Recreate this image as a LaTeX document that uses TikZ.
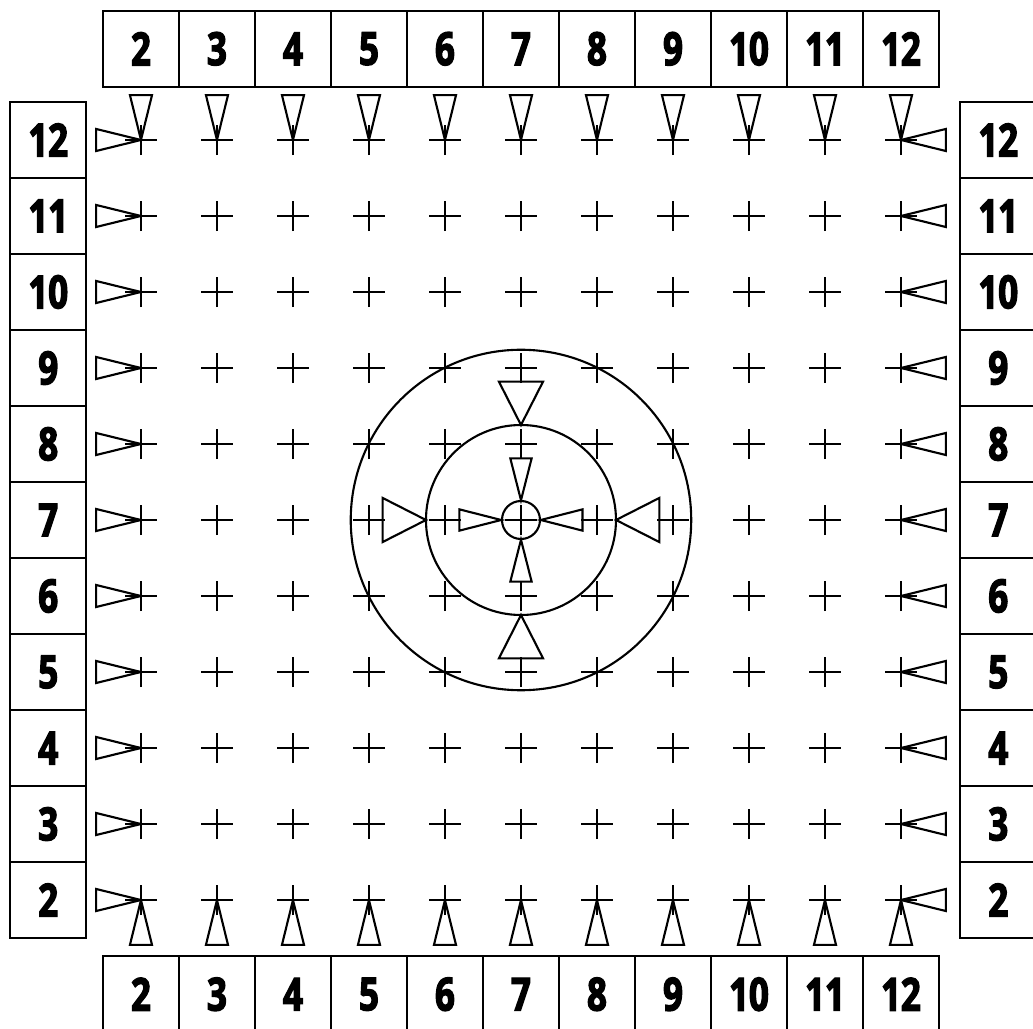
\documentclass[tikz,border=0pt]{standalone}
\usepackage{fontspec}
\newfontfamily\numfont{Open Sans Bold}[FakeStretch=0.76,FakeBold=3]
\usetikzlibrary{positioning}

\tikzset{
  numbox/.style={draw, line width=1.2pt, minimum width=1.52cm, minimum height=1.52cm,
    inner sep=0pt, font=\numfont\fontsize{26}{26}\selectfont},
  thinline/.style={line width=1.2pt},
  pics/spike/.style n args={2}{code={
    \draw[thinline, line join=miter] (0,0) -- (#1,#2) -- (#1,-#2) -- cycle;}}
}

\begin{document}
\begin{tikzpicture}[x=1.52cm, y=1.52cm]
    \useasboundingbox (-6.855,-6.697) rectangle (6.737,6.842);

    % Grid of crosses
    \foreach \c in {-5,...,5}
      \foreach \r in {-5,...,5}
        \draw[thinline] (\c-0.21,\r) -- (\c+0.21,\r) (\c,\r-0.2) -- (\c,\r+0.2);

    % Edge pointers
    \foreach \k in {-5,...,5} {
      \path (\k,5) pic[rotate=90] {spike={0.59}{0.145}};
      \path (\k,-5) pic[rotate=-90] {spike={0.59}{0.145}};
      \path (-5,\k) pic[rotate=180] {spike={0.59}{0.145}};
      \path (5,\k) pic {spike={0.59}{0.145}};
    }

    % Target in the middle
    \draw[thinline] (0,0) circle (0.25) circle (1.25) circle (2.24);
    \foreach \a in {0,90,180,270} {
      \path (\a:0.26) pic[rotate=\a] {spike={0.55}{0.14}};
      \path (\a:1.25) pic[rotate=\a] {spike={0.57}{0.29}};
    }

    % Number boxes
    \foreach \k in {-5,...,5} {
      \pgfmathtruncatemacro\lab{\k+7}
      \node[numbox] (top-\lab) at (\k,6.2) {\lab};
      \node[numbox] (bot-\lab) at (\k,-6.24) {\lab};
      \node[numbox] (left-\lab) at (-6.22,\k) {\lab};
      \node[numbox] (right-\lab) at (6.28,\k) {\lab};
    }
\end{tikzpicture}
\end{document}
